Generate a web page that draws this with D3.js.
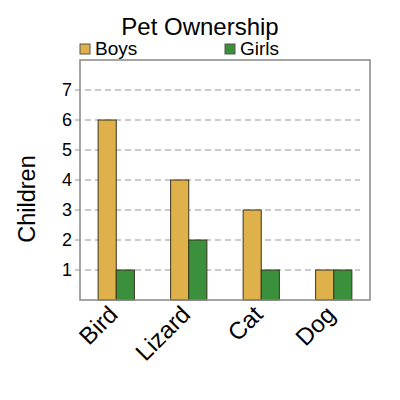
<!DOCTYPE html>
<html>
<head>
<meta charset="utf-8">
<script src="https://cdn.jsdelivr.net/npm/d3@7"></script>
<style>
  body { margin: 0; background: #fff; }
  text { font-family: "Liberation Sans", Arial, sans-serif; }
</style>
</head>
<body>
<svg id="chart" width="400" height="400"></svg>
<script>
const pets = ["Bird", "Lizard", "Cat", "Dog"];
const boys = [6, 4, 3, 1];
const girls = [1, 2, 1, 1];
const seriesNames = ["Boys", "Girls"];
const colors = ["#dfb14a", "#3b913b"];
const yTicks = [1, 2, 3, 4, 5, 6, 7];

const svg = d3.select("#chart");
const m = { left: 80, right: 30, top: 60, bottom: 100 };
const w = 400 - m.left - m.right;
const h = 400 - m.top - m.bottom;

const x = d3.scaleBand().domain(pets).range([0, w]).paddingInner(0.5).paddingOuter(0.25);
const xs = d3.scaleBand().domain(seriesNames).range([0, x.bandwidth()]);
const y = d3.scaleLinear().domain([0, 8]).range([h, 0]);

const g = svg.append("g").attr("transform", "translate(" + m.left + "," + m.top + ")");

// grid
g.selectAll("line.grid")
  .data(yTicks)
  .enter().append("line")
    .attr("class", "grid")
    .attr("x1", -5).attr("x2", w - 10)
    .attr("y1", d => y(d)).attr("y2", d => y(d))
    .attr("stroke", "#bbb")
    .attr("stroke-width", 1.5)
    .attr("stroke-dasharray", "6,4");

g.selectAll("text.ytick")
  .data(yTicks)
  .enter().append("text")
    .attr("class", "ytick")
    .attr("x", -8)
    .attr("y", d => y(d))
    .attr("dy", "0.36em")
    .attr("text-anchor", "end")
    .style("font-size", "18px")
    .text(d => d);

// bars
const rows = pets.map((p, i) => ({ pet: p, vals: [boys[i], girls[i]] }));
const groups = g.selectAll("g.pet")
  .data(rows)
  .enter().append("g")
    .attr("transform", d => "translate(" + x(d.pet) + ",0)");
groups.selectAll("rect")
  .data(d => d.vals.map((v, i) => ({ s: seriesNames[i], v: v, c: colors[i] })))
  .enter().append("rect")
    .attr("x", d => xs(d.s))
    .attr("width", xs.bandwidth())
    .attr("y", d => y(d.v))
    .attr("height", d => h - y(d.v))
    .attr("fill", d => d.c)
    .attr("stroke", "#3a3320")
    .attr("stroke-width", 1);

// frame
g.append("rect")
  .attr("width", w).attr("height", h)
  .attr("fill", "none")
  .attr("stroke", "#888")
  .attr("stroke-width", 1.5);

// x labels
g.selectAll("text.xl")
  .data(pets)
  .enter().append("text")
    .attr("class", "xl")
    .attr("transform", d => "translate(" + (x(d) + x.bandwidth() / 2 + 3) + "," + (h + 16) + ")rotate(-45)")
    .attr("text-anchor", "end")
    .style("font-size", "24px")
    .text(d => d);

// y label
svg.append("text")
  .attr("transform", "translate(35,199)rotate(-90)")
  .attr("text-anchor", "middle")
  .style("font-size", "23.5px")
  .text("Children");

// title
svg.append("text")
  .attr("x", 200).attr("y", 35)
  .attr("text-anchor", "middle")
  .style("font-size", "24px")
  .text("Pet Ownership");

// legend
const leg = svg.selectAll("g.leg")
  .data(seriesNames)
  .enter().append("g")
    .attr("transform", (d, i) => "translate(" + (80 + i * 145) + ",44)");
leg.append("rect")
  .attr("width", 10).attr("height", 10)
  .attr("fill", (d, i) => colors[i])
  .attr("stroke", "#555");
leg.append("text")
  .attr("x", 15).attr("y", 11)
  .style("font-size", "19px")
  .text(d => d);
</script>
</body>
</html>
